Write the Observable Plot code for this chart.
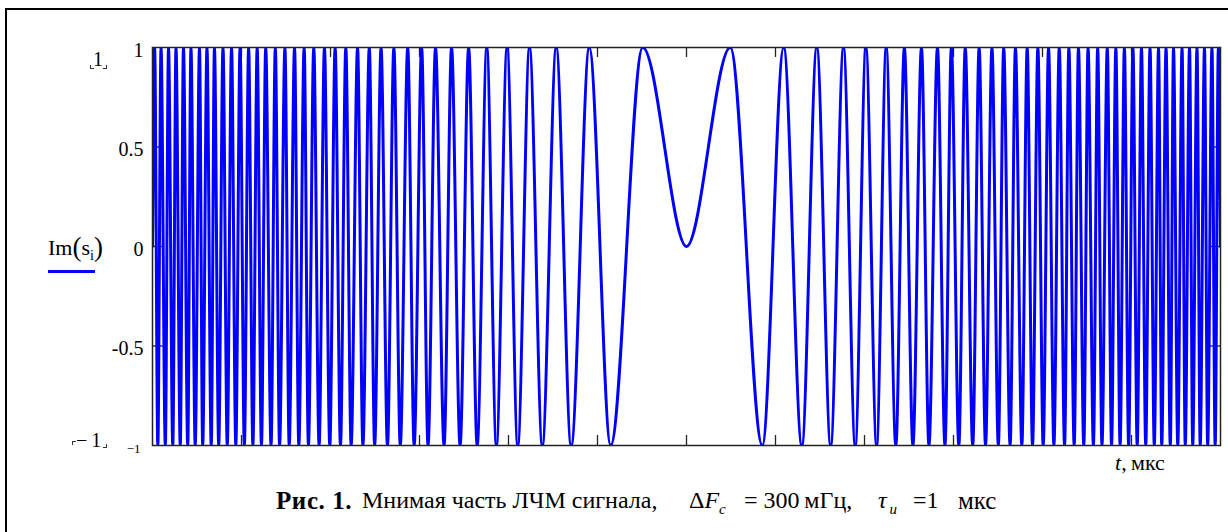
<!DOCTYPE html>
<html><head><meta charset="utf-8">
<script src="https://cdn.jsdelivr.net/npm/d3@7"></script>
<script src="https://cdn.jsdelivr.net/npm/@observablehq/plot@0.6"></script>
<style>
body{margin:0;background:#fff;width:1228px;height:532px;overflow:hidden;position:relative;font-family:"Liberation Serif","Times New Roman",serif;color:#000;}
#chart{position:absolute;left:0;top:0;}
.abs{position:absolute;white-space:nowrap;line-height:1;}
.cap{position:absolute;white-space:nowrap;line-height:1;top:488px;font-size:24px;}
.corner{position:absolute;width:3px;height:3px;border-color:#333;border-style:solid;border-width:0;}
</style></head><body>
<div style="position:absolute;left:5px;top:8px;width:1300px;height:700px;border-left:2px solid #000;border-top:2px solid #000;"></div>
<div id="chart"></div>
<div class="abs" style="left:48px;top:233px;font-size:22px;">Im<span style="font-size:27px;position:relative;top:1px;">(</span>s<sub style="font-size:14px;">i</sub><span style="font-size:27px;position:relative;top:1px;">)</span></div>
<div style="position:absolute;left:48px;top:270px;width:47px;height:3px;background:#0000ff;"></div>
<div class="abs" style="left:93px;top:49px;font-size:20px;">1</div>
<div class="corner" style="left:90px;top:65px;border-left-width:1px;border-bottom-width:1px;"></div>
<div class="corner" style="left:103px;top:65px;border-right-width:1px;border-bottom-width:1px;"></div>
<div class="abs" style="left:76px;top:430px;font-size:20px;">−&thinsp;1</div>
<div class="corner" style="left:72px;top:441px;border-left-width:1px;border-top-width:1px;"></div>
<div class="corner" style="left:103px;top:444px;border-right-width:1px;border-bottom-width:1px;"></div>
<div class="abs" style="left:1115px;top:452px;font-size:22px;"><i>t</i>,&thinsp;мкс</div>
<div class="cap" style="left:276px;"><b style="font-size:25px;letter-spacing:0.6px;">Рис. 1.</b></div>
<div class="cap" style="left:362px;">Мнимая часть ЛЧМ сигнала,</div>
<div class="cap" style="left:689px;">Δ<i>F</i><sub style="font-size:15px;"><i>c</i></sub></div>
<div class="cap" style="left:744px;">= 300&thinsp;мГц,</div>
<div class="cap" style="left:878px;"><i>τ</i><sub style="font-size:15px;position:relative;left:3px;"><i>u</i></sub></div>
<div class="cap" style="left:913px;">=1</div>
<div class="cap" style="left:958px;font-size:25px;">мкс</div>
<script>
// Times (µs) of the extrema right of centre (the curve is symmetric about t = 0)
const extremaT = [0.041,0.071,0.091,0.108,0.122,0.135,0.147,0.158,0.168,0.178,0.187,0.196,0.204,0.212,0.220,0.227,0.235,0.242,0.248,0.255,0.261,0.268,0.274,0.280,0.286,0.292,0.297,0.303,0.308,0.314,0.319,0.324,0.329,0.334,0.339,0.344,0.349,0.354,0.358,0.363,0.367,0.372,0.376,0.381,0.385,0.389,0.394,0.398,0.402,0.406,0.410,0.414,0.418,0.422,0.426,0.430,0.434,0.438,0.442,0.445,0.449,0.453,0.456,0.460,0.464,0.467,0.471,0.474,0.478,0.481,0.485,0.488,0.492,0.495,0.498];
// Value at each extremum
const extremaV = [1,-1,1,-1,1,-1,1,-1,1,-1,1,-1,1,-1,1,-1,1,-1,1,-1,1,-1,1,-1,1,-1,1,-1,1,-1,1,-1,1,-1,1,-1,1,-1,1,-1,1,-1,1,-1,1,-1,1,-1,1,-1,1,-1,1,-1,1,-1,1,-1,1,-1,1,-1,1,-1,1,-1,1,-1,1,-1,1,-1,1,-1,1];
// Centre and edge values
const centreT = 0, centreV = 0;
const edgeT = 0.5, edgeV = 0;
const xTicks = [-5/12,-4/12,-3/12,-2/12,-1/12,0,1/12,2/12,3/12,4/12,5/12];
const yTickLabels = [1, 0.5, 0, -0.5];
const yTickMarks = [0.5, 0, -0.5];

const pts = [];
pts.push({t: -edgeT, v: edgeV});
for (let i = extremaT.length - 1; i >= 0; i--) pts.push({t: -extremaT[i], v: extremaV[i]});
pts.push({t: centreT, v: centreV});
for (let i = 0; i < extremaT.length; i++) pts.push({t: extremaT[i], v: extremaV[i]});
pts.push({t: edgeT, v: edgeV});

const chart = Plot.plot({
  width: 1228, height: 470,
  marginLeft: 152, marginRight: 8, marginTop: 47, marginBottom: 25,
  style: {fontFamily: "'Liberation Serif', 'Times New Roman', serif", fontSize: "20px", color: "#000", background: "transparent"},
  x: {domain: [-0.5, 0.5]},
  y: {domain: [-1, 1]},
  marks: [
    Plot.ruleX(xTicks, {x: d => d, y1: -1, y2: -0.95, stroke: "#222", strokeWidth: 1.3}),
    Plot.ruleX(xTicks, {x: d => d, y1: 1, y2: 0.95, stroke: "#222", strokeWidth: 1.3}),
    Plot.ruleY(yTickMarks, {y: d => d, x1: -0.5, x2: -0.49, stroke: "#222", strokeWidth: 1.3}),
    Plot.ruleY(yTickMarks, {y: d => d, x1: 0.5, x2: 0.49, stroke: "#222", strokeWidth: 1.3}),
    Plot.line(pts, {x: "t", y: "v", stroke: "#0000ff", strokeWidth: 3, curve: "monotone-x", clip: true}),
    Plot.frame({stroke: "#222", strokeWidth: 1.5}),
    Plot.axisX({ticks: [], label: null}),
    Plot.axisY({ticks: yTickLabels, tickSize: 0, tickPadding: 9, dy: 3, label: null, fontSize: 20,
      tickFormat: d => d < 0 ? "-" + Math.abs(d) : String(d)}),
    Plot.text([-1], {x: -0.5, y: d => d, text: d => "−1", dx: -12, dy: 3, textAnchor: "end", fontSize: 13})
  ]
});
document.getElementById("chart").appendChild(chart);
</script>
</body></html>
